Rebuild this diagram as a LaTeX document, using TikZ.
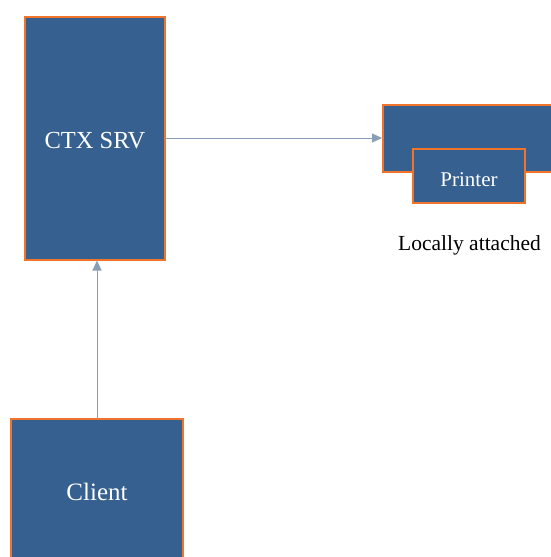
\documentclass[tikz,border=0pt]{standalone}
\usepackage{fontspec}
\setmainfont{Liberation Serif}
\usetikzlibrary{arrows.meta}
\definecolor{boxfill}{HTML}{36608F}
\definecolor{boxedge}{HTML}{F0742B}
\definecolor{wire}{HTML}{8A9EB5}
\tikzset{
  unit/.style={draw=boxedge, fill=boxfill, line width=2pt, text=white, inner sep=0pt},
  link/.style={draw=wire, line width=1pt, -{Triangle[length=10pt,width=9pt]}}
}
\begin{document}
\begin{tikzpicture}[x=1pt,y=-1pt]
  \useasboundingbox (0,0) rectangle (551,557);
  % server
  \node[unit, minimum width=140pt, minimum height=243pt, text height=20pt, text depth=0pt, font=\fontsize{24.5}{28}\selectfont] (srv) at (95,138) {CTX SRV};
  % client (runs off the bottom edge)
  \node[unit, minimum width=172pt, minimum height=146pt, font=\fontsize{25}{29}\selectfont] (client) at (97,492) {Client};
  % printer housing and printer
  \node[unit, minimum width=190pt, minimum height=67pt] (host) at (478,138) {};
  \node[unit, minimum width=112pt, minimum height=54pt, text height=20pt, text depth=0pt, font=\fontsize{21}{25}\selectfont] (printer) at (469,176) {Printer};
  \node[font=\fontsize{21.5}{25}\selectfont, text depth=0pt] (cap) at (469.5,243) {Locally attached};
  % connections
  \draw[link] (srv.east) -- (host.west);
  \draw[link] (client.north) -- (client.north |- srv.south);
\end{tikzpicture}
\end{document}
